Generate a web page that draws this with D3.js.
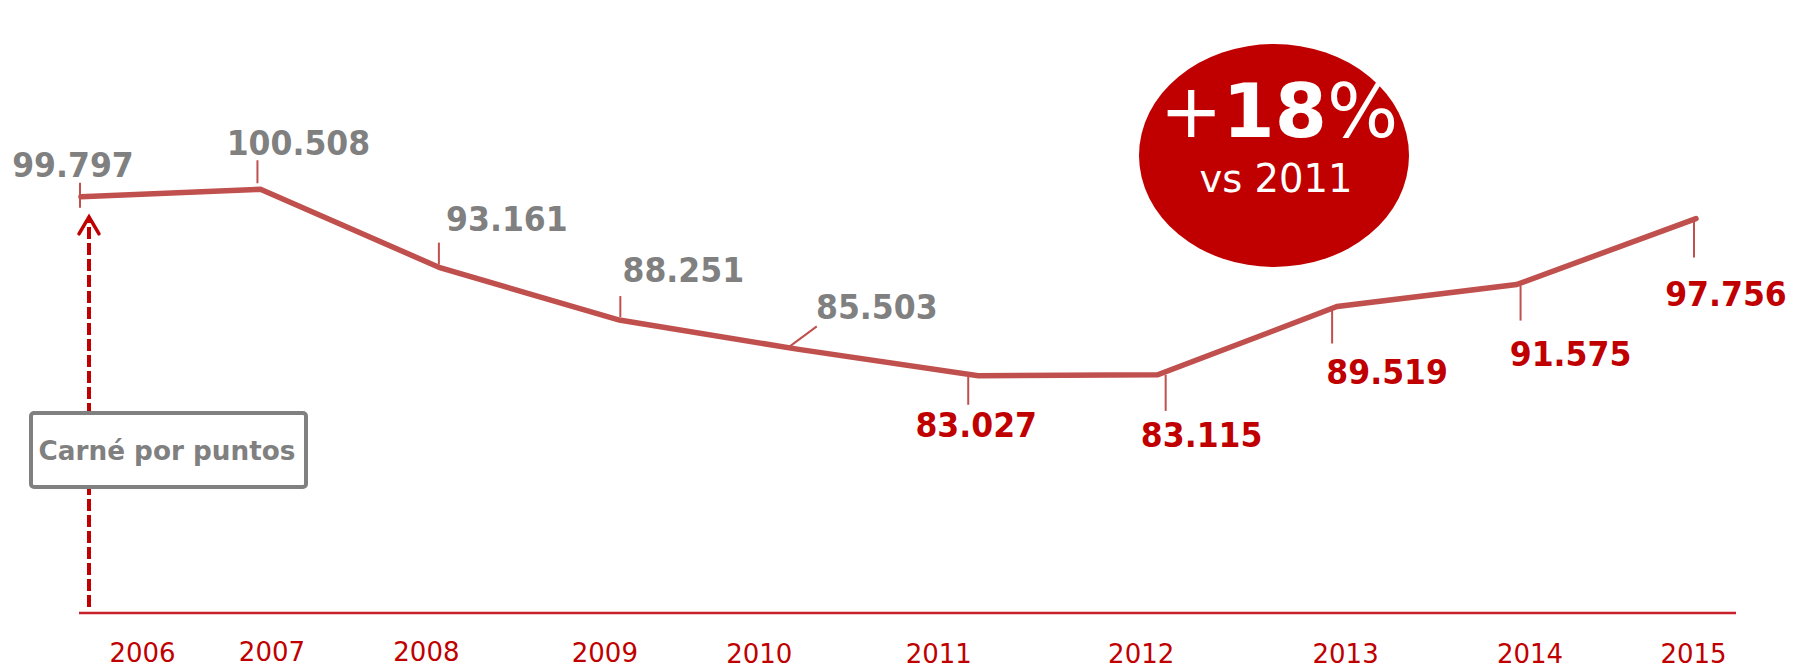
<!DOCTYPE html>
<html>
<head>
<meta charset="utf-8">
<script src="https://cdn.jsdelivr.net/npm/d3@7"></script>
<style>
  html, body { margin: 0; padding: 0; background: #fff; }
  svg { display: block; }
</style>
</head>
<body>
<svg id="chart" width="1804" height="669"></svg>
<script>
// ---- data ----
const years = ["2006","2007","2008","2009","2010","2011","2012","2013","2014","2015"];
const values = [99.797, 100.508, 93.161, 88.251, 85.503, 83.027, 83.115, 89.519, 91.575, 97.756];
const valueLabels = ["99.797","100.508","93.161","88.251","85.503","83.027","83.115","89.519","91.575","97.756"];
const highlightFrom = "2011";
const badgeMain = ["+", "18", "%"];
const badgeSub = "vs 2011";
const eventLabel = "Carné por puntos";

// ---- layout (annotation offsets, not data) ----
const labelOffsets = [[-8,-20],[38,-34],[67,-37],[64,-38],[78,-30],[-2,61],[44,72],[50,77],[54,81],[30,87]];
const leaderOffsets = [[-1,-14,-1,11],[-3,-29,-3,-6],[-1,-25,-1,-3],[1,-24,1,-3],[-9,-3,18,-23],[-10,1,-10,29],[8,0,8,36],[-5,4,-5,37],[4,1,4,36],[-2,3,-2,39]];
const tickOffsets = [[61,49],[11,48],[-14,48],[-15,49],[-40,50],[-40,50],[-17,50],[8,50],[13,50],[-3,50]];

const GRAY = "#808080", RED = "#C00000", LINE = "#C0504D";

const svg = d3.select("#chart");
const x = d3.scalePoint().domain(years).range([81, 1696]);
const y = d3.scaleLinear().domain([60.8, 101]).range([613, 184]);

// baseline axis
const axisY = y(60.8);
svg.append("line")
  .attr("x1", x.range()[0] - 2).attr("x2", x.range()[1] + 40)
  .attr("y1", axisY).attr("y2", axisY)
  .attr("stroke", "#C8202A").attr("stroke-width", 2.5);

const axis = d3.axisBottom(x).tickSize(0).tickPadding(0);
const gAxis = svg.append("g").attr("transform", `translate(0,${axisY})`).call(axis);
gAxis.select(".domain").remove();
gAxis.selectAll(".tick text")
  .attr("fill", RED)
  .attr("font-family", "DejaVu Sans")
  .attr("font-size", 26)
  .attr("text-anchor", "middle")
  .attr("dy", 0)
  .attr("x", (d, i) => tickOffsets[i][0])
  .attr("y", (d, i) => tickOffsets[i][1]);

// event arrow (dashed) and box
const ax = x(years[0]) + 8;
svg.append("line")
  .attr("x1", ax).attr("x2", ax)
  .attr("y1", axisY - 6).attr("y2", y(values[0]) + 22)
  .attr("stroke", RED).attr("stroke-width", 4)
  .attr("stroke-dasharray", "12 4");
svg.append("path")
  .attr("d", `M${ax-10},${y(values[0])+37} L${ax},${y(values[0])+20} L${ax+10},${y(values[0])+37}`)
  .attr("fill", "none").attr("stroke", RED).attr("stroke-width", 3.5)
  .attr("stroke-linecap", "round").attr("stroke-linejoin", "miter");

svg.append("rect")
  .attr("x", 31).attr("y", 413).attr("width", 275).attr("height", 74)
  .attr("rx", 3)
  .attr("fill", "#fff").attr("stroke", GRAY).attr("stroke-width", 4);
svg.append("text")
  .attr("x", 167).attr("y", 460)
  .attr("text-anchor", "middle")
  .attr("font-family", "DejaVu Sans").attr("font-weight", "bold")
  .attr("font-size", 27).attr("fill", GRAY)
  .text(eventLabel)
  .each(function () {
    const w = this.getComputedTextLength();
    d3.select(this).attr("textLength", Math.min(w, 257)).attr("lengthAdjust", "spacingAndGlyphs");
  });

// main line
const pts = years.map((yr, i) => [x(yr), y(values[i])]);
svg.append("path")
  .attr("d", d3.line()(pts))
  .attr("fill", "none").attr("stroke", LINE).attr("stroke-width", 5.5)
  .attr("stroke-linejoin", "miter").attr("stroke-linecap", "round");

// leader lines
svg.append("g").selectAll("line").data(years).join("line")
  .attr("x1", (d, i) => x(d) + leaderOffsets[i][0])
  .attr("y1", (d, i) => y(values[i]) + leaderOffsets[i][1])
  .attr("x2", (d, i) => x(d) + leaderOffsets[i][2])
  .attr("y2", (d, i) => y(values[i]) + leaderOffsets[i][3])
  .attr("stroke", LINE).attr("stroke-width", 2);

// value labels
const hiIdx = years.indexOf(highlightFrom);
svg.append("g").selectAll("text").data(years).join("text")
  .attr("x", (d, i) => x(d) + labelOffsets[i][0])
  .attr("y", (d, i) => y(values[i]) + labelOffsets[i][1])
  .attr("text-anchor", "middle")
  .attr("font-family", "DejaVu Sans").attr("font-weight", "bold")
  .attr("font-size", 33)
  .attr("fill", (d, i) => i >= hiIdx ? RED : GRAY)
  .text((d, i) => valueLabels[i])
  .each(function () {
    const w = this.getComputedTextLength();
    d3.select(this).attr("textLength", w * 0.955).attr("lengthAdjust", "spacingAndGlyphs");
  });

// badge
svg.append("ellipse")
  .attr("cx", 1274).attr("cy", 155.5).attr("rx", 135).attr("ry", 111.5)
  .attr("fill", RED);
const t1 = svg.append("text")
  .attr("x", 1279).attr("y", 137)
  .attr("text-anchor", "middle")
  .attr("font-family", "DejaVu Sans").attr("font-size", 75).attr("fill", "#fff");
t1.append("tspan").text(badgeMain[0]);
t1.append("tspan").attr("font-weight", "bold").text(badgeMain[1]);
t1.append("tspan").text(badgeMain[2]);
svg.append("text")
  .attr("x", 1276).attr("y", 192)
  .attr("text-anchor", "middle")
  .attr("font-family", "DejaVu Sans").attr("font-size", 38.5).attr("fill", "#fff")
  .text(badgeSub);
</script>
</body>
</html>
